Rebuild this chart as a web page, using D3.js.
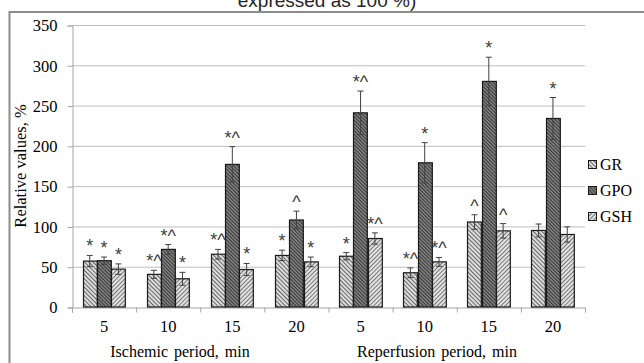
<html>

<script src='https://d3js.org/d3.v7.min.js'></script>

<style>
body {margin: 0; background: white;}
svg {display: block;}
.serif {font-family: "Liberation Serif", "Times New Roman", "DejaVu Serif", serif;}
.sans {font-family: "Liberation Sans", Arial, sans-serif;}
</style>

<body>
<svg width=644 height=363></svg>

<script>

// categories (two periods, 4 time points each)
var categories = ["5", "10", "15", "20", "5", "10", "15", "20"];
var periods = ["Ischemic period, min", "Reperfusion period, min"];
var series = ["GR", "GPO", "GSH"];
var yTicks = [0, 50, 100, 150, 200, 250, 300, 350];

// values (% of control)
var GR     = [57, 40.5, 65.5, 64, 63, 42.5, 105.5, 95];
var GR_err = [7, 5, 6, 6.5, 4.5, 6, 9, 8];
var GPO     = [57.5, 71.5, 177, 108, 241, 179, 280, 234];
var GPO_err = [4.5, 6, 22, 11, 27, 25, 30, 26];
var GSH     = [47, 35, 46.5, 56, 85, 56, 94.5, 90];
var GSH_err = [6.5, 8, 7.5, 6, 7, 5.5, 9, 9.5];

// significance marks above each bar
var GR_mark  = ["*", "*^", "*^", "*", "*", "*^", "^", ""];
var GPO_mark = ["*", "*^", "*^", "^", "*^", "*", "*", "*"];
var GSH_mark = ["*", "*", "*", "*", "*^", "*^", "^", ""];

var values = {GR: GR, GPO: GPO, GSH: GSH};
var errors = {GR: GR_err, GPO: GPO_err, GSH: GSH_err};
var marks = {GR: GR_mark, GPO: GPO_mark, GSH: GSH_mark};

var svg = d3.select("svg");

// hatch patterns
var defs = svg.append("defs");
function hatch(id, bg, line, step, angle) {
  var p = defs.append("pattern")
    .attr("id", id)
    .attr("patternUnits", "userSpaceOnUse")
    .attr("width", step).attr("height", step)
    .attr("patternTransform", "rotate(" + angle + ")");
  p.append("rect").attr("width", step).attr("height", step).attr("fill", bg);
  p.append("line")
    .attr("x1", 0.5).attr("y1", 0).attr("x2", 0.5).attr("y2", step)
    .attr("stroke", line).attr("stroke-width", 1);
}
hatch("pGR", "#dcdcdc", "#666", 3, -45);
hatch("pGPO", "#858585", "#333", 2.5, -45);
hatch("pGSH", "#e2e2e2", "#777", 3, 45);
var fills = {GR: "url(#pGR)", GPO: "url(#pGPO)", GSH: "url(#pGSH)"};

// outer chart frame (cut by the picture edge)
svg.append("rect")
  .attr("x", 9.5).attr("y", 12)
  .attr("width", 700).attr("height", 400)
  .attr("fill", "none")
  .attr("stroke", "#8c8c8c")
  .attr("stroke-width", 2);

// title, mostly outside the picture
svg.append("text")
  .attr("class", "sans")
  .text("expressed as 100 %)")
  .attr("x", 327).attr("y", 7)
  .attr("text-anchor", "middle")
  .style("font-size", "19px")
  .attr("fill", "#262626");

var plotL = 72, plotR = 585, plotT = 25, plotB = 307;

var x0 = d3.scaleBand()
  .domain(d3.range(categories.length))
  .range([plotL, plotR])
  .paddingInner(0);

var groupW = x0.bandwidth() * 0.67;
var x1 = d3.scaleBand()
  .domain(series)
  .range([0, groupW]);

var y = d3.scaleLinear()
  .domain([0, 350])
  .range([plotB, plotT]);

// grid lines
svg.append("g")
  .selectAll("line")
  .data(yTicks.slice(1))
  .join("line")
    .attr("x1", plotL).attr("x2", plotR)
    .attr("y1", d => y(d) + 0.5).attr("y2", d => y(d) + 0.5)
    .attr("stroke", "#bfbfbf");

// Y axis
var yAxis = svg.append("g")
  .attr("transform", "translate(" + (plotL + 0.5) + ",0.5)")
  .call(d3.axisLeft(y).tickValues(yTicks).tickSize(5).tickPadding(10));
yAxis.attr("font-family", null).attr("font-size", null);
yAxis.select(".domain").attr("stroke", "#a6a6a6");
yAxis.selectAll(".tick line").attr("stroke", "#a6a6a6");
yAxis.selectAll("text")
  .attr("class", "serif")
  .style("font-size", "16.5px").attr("fill", "#000");

// X axis with ticks between categories
var xAxis = svg.append("g")
  .attr("transform", "translate(0," + (plotB + 0.5) + ")")
  .call(d3.axisBottom(d3.scaleLinear().domain([0, categories.length]).range([plotL, plotR]))
    .tickValues(d3.range(categories.length + 1)).tickSize(5).tickFormat(""));
xAxis.select(".domain").attr("stroke", "#a6a6a6");
xAxis.selectAll(".tick line").attr("stroke", "#a6a6a6");

svg.append("g")
  .selectAll("text")
  .data(categories)
  .join("text")
    .attr("class", "serif")
    .text(d => d)
    .attr("x", (d, i) => x0(i) + x0.bandwidth() / 2)
    .attr("y", 332)
    .attr("text-anchor", "middle")
    .style("font-size", "16.5px");

// period labels
var periodX = [180, 437];
svg.append("g")
  .selectAll("text")
  .data(periods)
  .join("text")
    .attr("class", "serif")
    .text(d => d)
    .attr("x", (d, i) => periodX[i])
    .attr("y", 357)
    .attr("text-anchor", "middle")
    .style("font-size", "16px")
    .style("word-spacing", "2px");

// Y axis title
svg.append("text")
  .attr("class", "serif")
  .text("Relative values, %")
  .attr("transform", "translate(26,166) rotate(-90)")
  .attr("text-anchor", "middle")
  .style("font-size", "16.5px");

// bars, error bars and marks
var rows = [];
categories.forEach(function(c, i) {
  series.forEach(function(s) {
    rows.push({i: i, s: s, v: values[s][i], e: errors[s][i], m: marks[s][i]});
  });
});

var off = (x0.bandwidth() - groupW) / 2;
function bx(d) { return x0(d.i) + off + x1(d.s); }
function cx(d) { return bx(d) + x1.bandwidth() / 2; }

var g = svg.append("g");

g.selectAll("rect.bar")
  .data(rows)
  .join("rect")
    .attr("class", "bar")
    .attr("x", d => Math.round(bx(d)) + 0.5)
    .attr("y", d => y(d.v))
    .attr("width", x1.bandwidth() - 0.5)
    .attr("height", d => y(0) - y(d.v))
    .attr("fill", d => fills[d.s])
    .attr("stroke", "#1a1a1a")
    .attr("stroke-width", 1.2);

var eb = g.append("g").attr("stroke", "#404040").attr("stroke-width", 1);
eb.selectAll("line.v")
  .data(rows)
  .join("line")
    .attr("class", "v")
    .attr("x1", d => cx(d)).attr("x2", d => cx(d))
    .attr("y1", d => y(d.v - d.e)).attr("y2", d => y(d.v + d.e));
eb.selectAll("line.t")
  .data(rows)
  .join("line")
    .attr("class", "t")
    .attr("x1", d => cx(d) - 3).attr("x2", d => cx(d) + 3)
    .attr("y1", d => y(d.v + d.e)).attr("y2", d => y(d.v + d.e));
eb.selectAll("line.b")
  .data(rows)
  .join("line")
    .attr("class", "b")
    .attr("x1", d => cx(d) - 3).attr("x2", d => cx(d) + 3)
    .attr("y1", d => y(d.v - d.e)).attr("y2", d => y(d.v - d.e));

g.selectAll("text.mark")
  .data(rows.filter(d => d.m !== ""))
  .join("text")
    .attr("class", "mark sans")
    .text(d => d.m)
    .attr("x", d => cx(d))
    .attr("y", d => y(d.v + d.e) - 3)
    .attr("text-anchor", "middle")
    .style("font-size", "18px")
    .attr("fill", "#404040");

// legend
var legend = svg.append("g")
  .selectAll("g")
  .data(series)
  .join("g")
    .attr("transform", (d, i) => "translate(588," + (160 + i * 26) + ")");
legend.append("rect")
  .attr("x", 0.5).attr("y", 0.5)
  .attr("width", 8).attr("height", 8)
  .attr("fill", d => fills[d])
  .attr("stroke", "#1a1a1a");
legend.append("text")
  .attr("class", "serif")
  .text(d => d)
  .attr("x", 12).attr("y", 9.5)
  .style("font-size", "16px");

</script>
</body>
</html>
